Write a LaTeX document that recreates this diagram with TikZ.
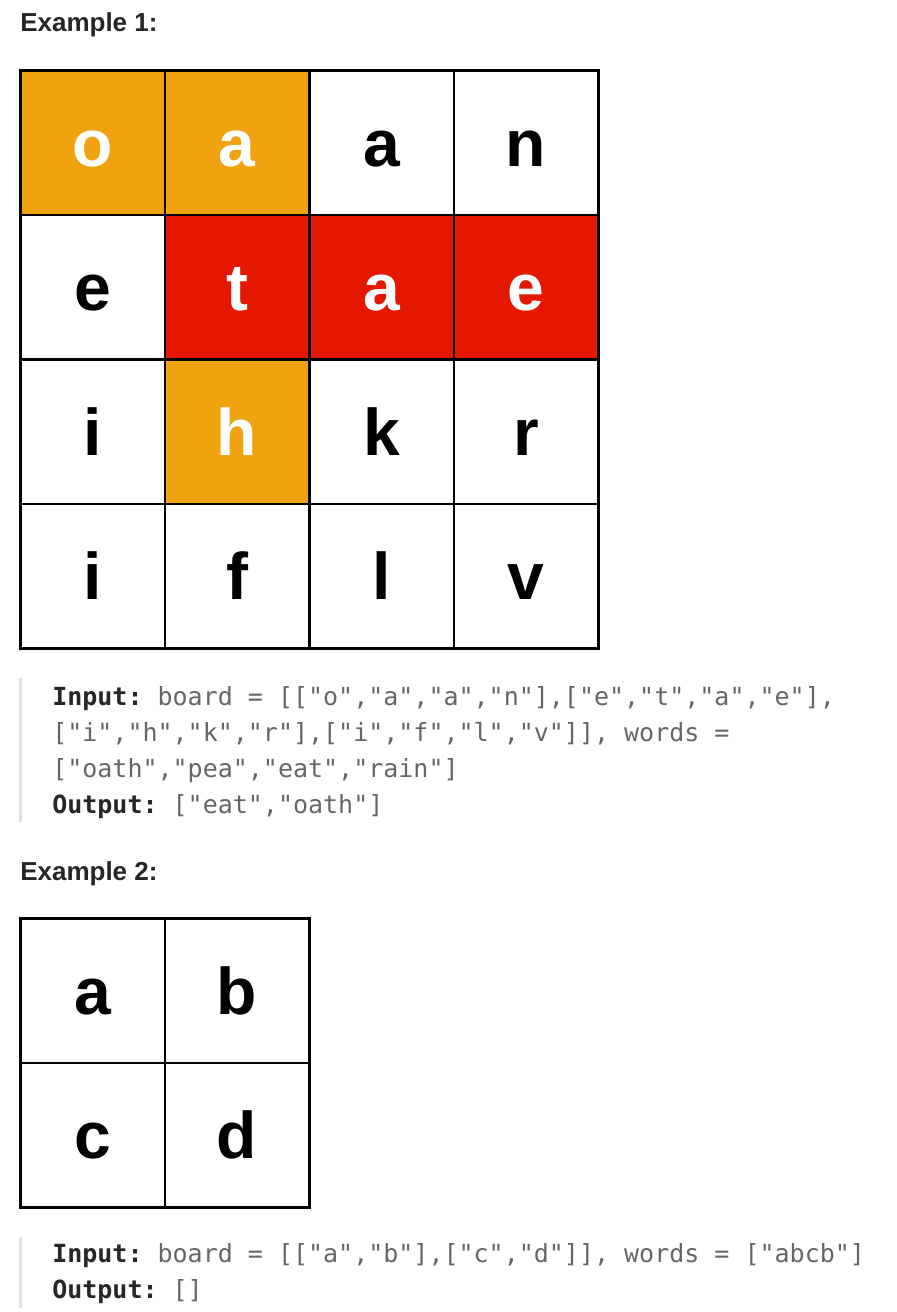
\documentclass[tikz,border=0pt]{standalone}
\usepackage{fontspec}
\setmainfont{Liberation Sans}
\setmonofont{DejaVu Sans Mono}
\usetikzlibrary{chains,positioning}
\definecolor{oathgold}{HTML}{F0A30F}
\definecolor{eatred}{HTML}{E41700}
\definecolor{headgray}{HTML}{262626}
\definecolor{codegray}{HTML}{666666}
\definecolor{bargray}{HTML}{E3E3E3}

\begin{document}
\begin{tikzpicture}[
x=0.75pt,y=-0.75pt,
cell/.style={
  draw,
  line width=1.9pt,
  minimum size=108.4pt,
  inner sep=0pt,
  outer sep=0pt,
  text height=35.3pt,
  text depth=0pt,
  font=\fontsize{49.5}{50}\selectfont\bfseries
},
gold/.style={cell,fill=oathgold,text=white},
hot/.style={cell,fill=eatred,text=white},
head/.style={
  anchor=base west,
  inner sep=0pt,
  text=headgray,
  font=\fontsize{19.5}{20}\selectfont\bfseries
},
code/.style={
  anchor=base west,
  inner sep=0pt,
  text=codegray,
  font=\ttfamily\fontsize{18.75}{27}\selectfont
},
node distance=0pt
]
\fill[white] (0,0) rectangle (896,1312);

\node[head] (ex1) at (20,32) {Example 1:};

\begin{scope}[start chain=r1 going right]
\node[gold,on chain=r1] at (92.5,142.7) (c11) {o};
\node[gold,on chain=r1] (c12) {a};
\node[cell,on chain=r1] (c13) {a};
\node[cell,on chain=r1] (c14) {n};
\end{scope}
\begin{scope}[start chain=r2 going right]
\node[cell,on chain=r2,below=of c11] (c21) {e};
\node[hot,on chain=r2] (c22) {t};
\node[hot,on chain=r2] (c23) {a};
\node[hot,on chain=r2] (c24) {e};
\end{scope}
\begin{scope}[start chain=r3 going right]
\node[cell,on chain=r3,below=of c21] (c31) {i};
\node[gold,on chain=r3] (c32) {h};
\node[cell,on chain=r3] (c33) {k};
\node[cell,on chain=r3] (c34) {r};
\end{scope}
\begin{scope}[start chain=r4 going right]
\node[cell,on chain=r4,below=of c31] (c41) {i};
\node[cell,on chain=r4] (c42) {f};
\node[cell,on chain=r4] (c43) {l};
\node[cell,on chain=r4] (c44) {v};
\end{scope}

\fill[bargray] (19.2,678) rectangle (22.2,822);
\node[code] (in1) at (52,705)
  {\textcolor{headgray}{\bfseries Input:} board = [["o","a","a","n"],["e","t","a","e"],};
\node[code] (in2) at (52,741)
  {["i","h","k","r"],["i","f","l","v"]], words =};
\node[code] (in3) at (52,777)
  {["oath","pea","eat","rain"]};
\node[code] (out1) at (52,813)
  {\textcolor{headgray}{\bfseries Output:} ["eat","oath"]};

\node[head] (ex2) at (20,880) {Example 2:};

\begin{scope}[start chain=s1 going right]
\node[cell,on chain=s1] at (92.5,990.8) (d11) {a};
\node[cell,on chain=s1] (d12) {b};
\end{scope}
\begin{scope}[start chain=s2 going right]
\node[cell,on chain=s2,below=of d11] (d21) {c};
\node[cell,on chain=s2] (d22) {d};
\end{scope}

\fill[bargray] (19.2,1237) rectangle (22.2,1308);
\node[code] (in4) at (52,1262)
  {\textcolor{headgray}{\bfseries Input:} board = [["a","b"],["c","d"]], words = ["abcb"]};
\node[code] (out2) at (52,1298)
  {\textcolor{headgray}{\bfseries Output:} []};
\end{tikzpicture}
\end{document}
